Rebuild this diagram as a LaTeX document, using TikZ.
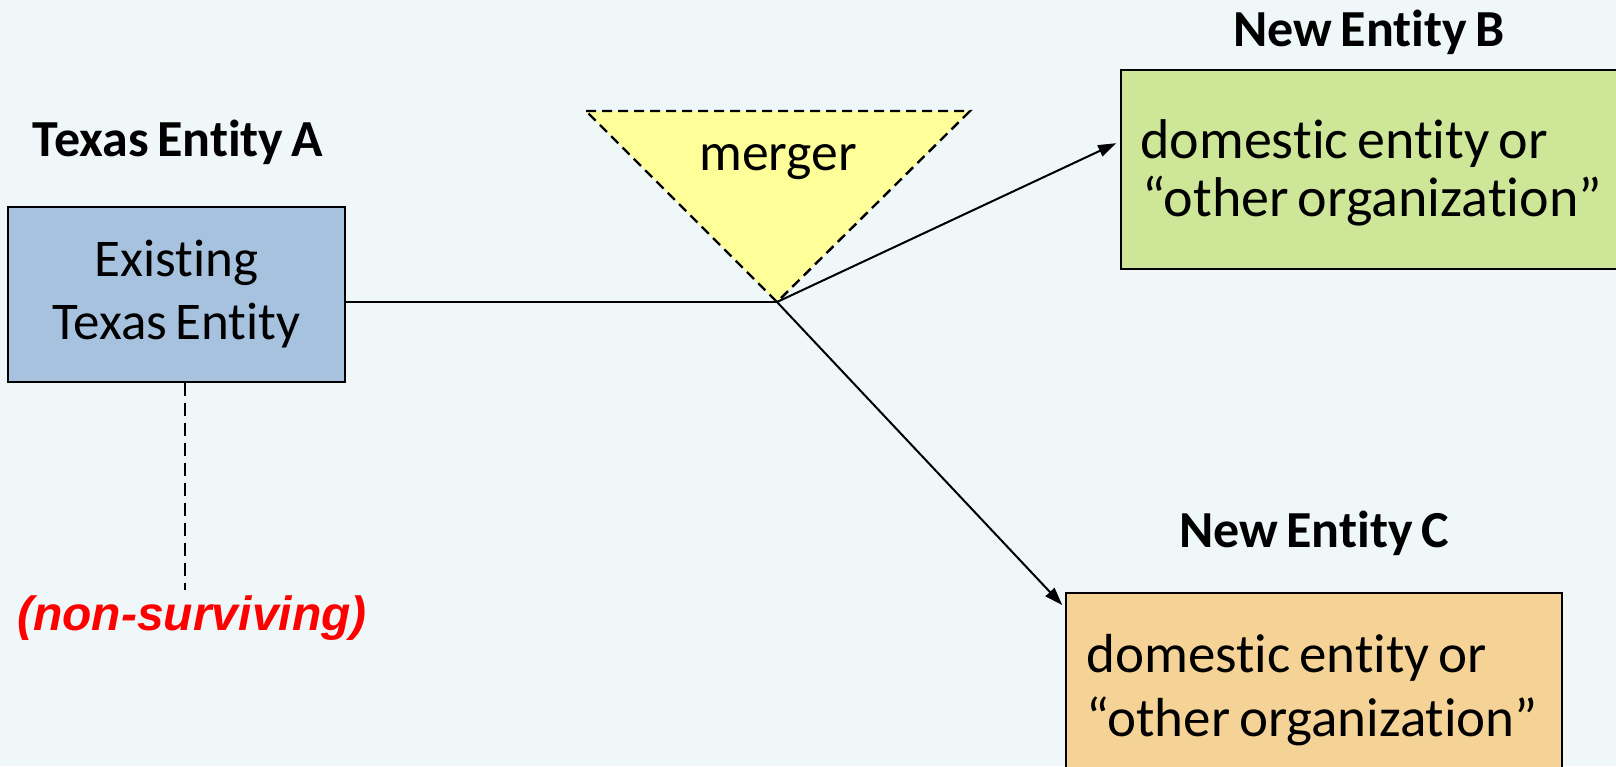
\documentclass[tikz,border=0pt]{standalone}
\usepackage{fontspec}
\setmainfont{Carlito}[Ligatures={TeX,NoCommon}]
\newfontfamily\textcutie{Carlito}[Ligatures={TeX,NoCommon},WordSpace=0.7]
\newfontfamily\arialfont{Liberation Sans}
\usetikzlibrary{arrows.meta}
\definecolor{fundal}{RGB}{239,247,249}
\definecolor{albastru}{RGB}{167,194,223}
\definecolor{verde}{RGB}{206,230,152}
\definecolor{portocaliu}{RGB}{245,210,150}
\definecolor{galben}{RGB}{255,255,153}

\begin{document}
\begin{tikzpicture}[x=0.5pt,y=-0.5pt,
  cutie/.style={draw,line width=1.2pt,rectangle,inner sep=0pt},
  titlu/.style={font=\fontsize{26}{31}\selectfont\bfseries},
  legatura/.style={line width=1pt},
  sageata/.style={line width=1pt,-{Triangle[length=9pt,width=6pt]},shorten >=2pt}]
  % fundal
  \useasboundingbox (0,0) rectangle (1616,766);
  \clip (0,0) rectangle (1616,766);
  \fill[fundal] (0,0) rectangle (1616,766);

  % entitatea A
  \node[titlu] (titluA) at (178,142) {Texas Entity A};
  \node[cutie,fill=albastru,minimum width=168.5pt,minimum height=87.5pt,align=center,
    font=\fontsize{26.5}{31.5}\selectfont] (boxA) at (176.5,294.5) {Existing\\Texas Entity};
  \node[font=\arialfont\fontsize{24}{28}\selectfont\bfseries\itshape,text=red] (nesupr) at (192,618) {(non-surviving)};
  \coordinate (capat) at (185,590);
  \draw[line width=0.75pt,dash pattern=on 6.5pt off 3.5pt] (boxA.south -| capat) -- (capat);

  % fuziune
  \coordinate (stg) at (586,111);
  \coordinate (dr) at (970,111);
  \coordinate (apex) at (777,302);
  \fill[galben] (stg) -- (dr) -- (apex) -- cycle;
  \draw[line width=1.2pt,dash pattern=on 5pt off 3pt] (stg) -- (dr) -- (apex) -- cycle;
  \node[font=\fontsize{26.8}{31}\selectfont] (fuziune) at (778,162) {merger};

  % entitatea B
  \node[titlu] (titluB) at (1369,32) {New Entity B};
  \node[cutie,fill=verde,minimum width=248.5pt,minimum height=99.5pt] (boxB) at (1369.5,169.5) {};
  \node[anchor=west,align=left,inner sep=0pt,font=\textcutie\fontsize{28}{29}\selectfont] (textB) at (1140,173)
    {domestic entity or\\\hspace*{1pt}“other organization”};

  % entitatea C
  \node[titlu] (titluC) at (1314,533) {New Entity C};
  \node[cutie,fill=portocaliu,anchor=north west,minimum width=248pt,minimum height=90pt] (boxC) at (1065,592) {};
  \node[anchor=west,align=left,inner sep=0pt,font=\textcutie\fontsize{27.5}{32}\selectfont] (textC) at (1086,690)
    {domestic entity or\\“other organization”};

  % conexiuni
  \draw[legatura] (boxA.east |- apex) -- (apex);
  \draw[sageata] (apex) -- ([yshift=14pt]boxB.west);
  \draw[sageata] (apex) -- ([yshift=-8pt]boxC.north west);
\end{tikzpicture}
\end{document}
